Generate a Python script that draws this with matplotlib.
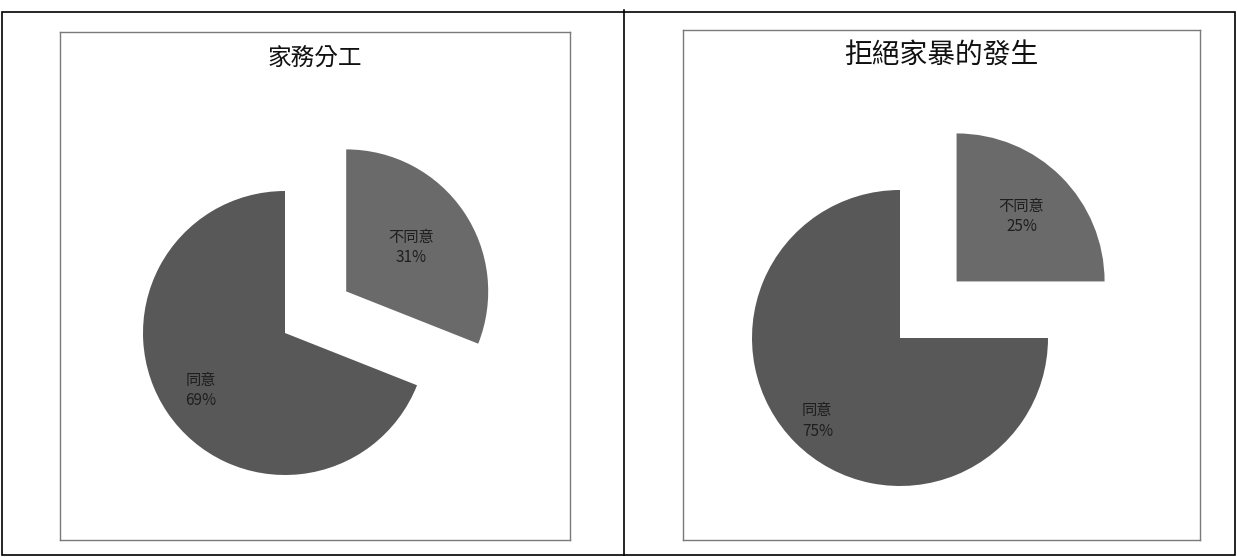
import math
import matplotlib
matplotlib.use('Agg')
import matplotlib.pyplot as plt
from matplotlib.patches import Rectangle
from matplotlib.lines import Line2D

plt.rcParams['font.family'] = ['Noto Sans CJK TC', 'DejaVu Sans']

W, H = 1237, 557

# data
titles = ['家務分工', '拒絕家暴的發生']
labels = ['不同意', '同意']
share_left = [31, 69]
share_right = [25, 75]
colors = ['#6a6a6a', '#585858']

fig = plt.figure(figsize=(W / 100, H / 100), dpi=100)


def fx(px):
    return px / W


def fy(py):
    return 1 - py / H


# outer table frame and divider
fig.patches.append(Rectangle((fx(2), fy(555)), fx(1233), (553 - 10) / H,
                             transform=fig.transFigure, fill=False, lw=1.2, ec='black'))
fig.lines.append(Line2D([fx(624), fx(624)], [fy(10), fy(555)],
                        transform=fig.transFigure, lw=1.2, color='black'))


def panel(box, title, vals, center, radius, explode, ldist, title_size):
    x0, y0, x1, y1 = box
    ax = fig.add_axes([fx(x0), fy(y1), (x1 - x0) / W, (y1 - y0) / H])
    txt = [f'{l}\n{v}%' for l, v in zip(labels, vals)]
    wedges, texts = ax.pie(vals, labels=txt, colors=colors, startangle=90,
                           counterclock=False, center=(center[0], H - center[1]),
                           radius=radius, explode=[explode, 0], labeldistance=ldist[0],
                           textprops=dict(fontsize=11, color='#1e1e1e'), frame=True)
    ax.set_aspect('auto')
    ax.set_xlim(x0, x1)
    ax.set_ylim(H - y1, H - y0)
    ax.set_xticks([])
    ax.set_yticks([])
    for s in ax.spines.values():
        s.set_color('#7a7a7a')
        s.set_linewidth(1.0)
    # big slice label sits at its own distance
    t1, t2 = wedges[1].theta1, wedges[1].theta2
    tm = math.radians((t1 + t2) / 2)
    texts[1].set_position((center[0] + ldist[1] * radius * math.cos(tm),
                           H - center[1] + ldist[1] * radius * math.sin(tm)))
    for t in texts:
        t.set_ha('center')
        t.set_va('center')
        t.set_linespacing(1.3)
    ax.text((x0 + x1) / 2, H - y0 - 26, title, ha='center', va='center',
            fontsize=title_size, color='#111111')
    return ax


panel((60, 32, 570, 540), titles[0], share_left, (285, 333), 142, 74, (0.55, 0.72), 17)
panel((683, 30, 1200, 540), titles[1], share_right, (900, 338), 148, 80, (0.62, 0.79), 20)

fig.savefig('out.png', dpi=100)
